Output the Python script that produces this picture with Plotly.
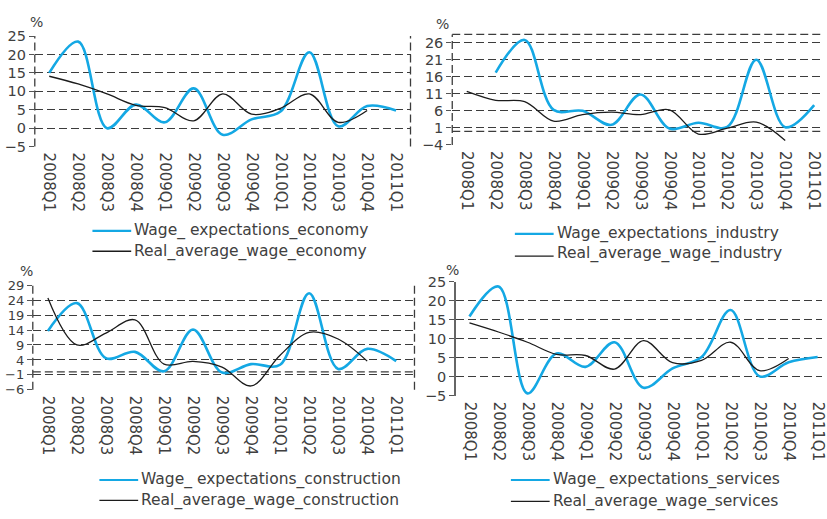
import plotly.graph_objects as go

W, H = 827, 519

quarters = ["2008Q1", "2008Q2", "2008Q3", "2008Q4",
            "2009Q1", "2009Q2", "2009Q3", "2009Q4",
            "2010Q1", "2010Q2", "2010Q3", "2010Q4", "2011Q1"]

# Economy
exp_economy = [15.0, 23.5, 0.0, 6.4, 1.6, 10.8, -1.8, 2.4, 4.5, 20.6, 0.5, 6.0, 4.8]
real_economy = [14.1, 12.0, 9.3, 6.2, 5.6, 2.0, 9.3, 3.8, 5.4, 9.3, 1.6, 4.8, None]

# Industry
exp_industry = [None, 17.2, 26.8, 6.3, 6.0, 1.9, 10.8, 0.8, 2.5, 1.3, 21.0, 1.2, 7.7]
real_industry = [11.7, 9.1, 8.7, 3.0, 4.9, 5.6, 4.9, 6.3, -0.8, 0.9, 2.7, -2.7, None]

# Construction
exp_construction = [13.7, 23.0, 4.6, 6.7, 0.2, 14.2, -0.2, 2.6, 2.4, 26.3, 1.0, 7.7, 3.6]
real_construction = [24.7, 9.0, 13.0, 17.4, 2.6, 3.5, 1.6, -4.7, 5.6, 13.2, 11.0, 3.6, None]

# Services
exp_services = [15.9, 23.8, -4.4, 6.1, 2.6, 9.1, -2.9, 2.2, 5.2, 17.6, 0.1, 3.8, 5.2]
real_services = [14.2, 11.8, 9.1, 5.9, 5.6, 2.0, 9.5, 3.7, 4.3, 9.1, 1.6, 4.8, None]

# Per-panel layout in pixels: plot area, "%" label, and the two key rows
# (key = x of sample line start, y of first and second rows).
panels = [
    dict(exp=exp_economy, real=real_economy,
         exp_name="Wage_ expectations_economy", real_name="Real_average_wage_economy",
         yticks=[25, 20, 15, 10, 5, 0, -5], yrange=[-5, 25], xrange=[-0.5, 12.5],
         px_x=(35, 413), px_y=(29, 143), pct=(37, 14), ysize=14.5,
         key_x=93, key_y=(230, 251), key_text_dy=(0, 0),
         left_dash=True, right_dash=True, top_dash=False, zero_dash=False),
    dict(exp=exp_industry, real=real_industry,
         exp_name="Wage_expectations_industry", real_name="Real_average_wage_industry",
         yticks=[26, 21, 16, 11, 6, 1, -4], yrange=[-4, 28.4], xrange=[-0.5, 12.27],
         px_x=(455, 827), px_y=(27.3, 141.3), pct=(445, 17), ysize=14.5,
         key_x=518, key_y=(233, 256), key_text_dy=(0, -3),
         left_dash=True, right_dash=False, top_dash=True, zero_dash=True),
    dict(exp=exp_construction, real=real_construction,
         exp_name="Wage_ expectations_construction", real_name="Real_average_wage_construction",
         yticks=[29, 24, 19, 14, 9, 4, -1, -6], yrange=[-6, 29], xrange=[-0.52, 12.63],
         px_x=(33, 417), px_y=(286, 394), pct=(27, 271), ysize=13,
         key_x=100, key_y=(487, 508), key_text_dy=(0, 0),
         left_dash=True, right_dash=True, top_dash=False, zero_dash=True),
    dict(exp=exp_services, real=real_services,
         exp_name="Wage_ expectations_services", real_name="Real_average_wage_services",
         yticks=[25, 20, 15, 10, 5, 0, -5], yrange=[-5, 25], xrange=[-0.456, 12.15],
         px_x=(459, 827), px_y=(282.7, 400), pct=(455, 270), ysize=14.5,
         key_x=514, key_y=(487, 509), key_text_dy=(0, 0),
         left_dash=False, right_dash=False, top_dash=False, zero_dash=False),
]

BLUE = "#14A8E4"
DARK = "#1c1c1c"
GRID = "#3c3c3c"
TEXT = "#404040"
FONT = "DejaVu Sans"
DASH = "8px,4px"
KEY_LEN = 39

fig = go.Figure()
shapes = []
annotations = []
layout = {}

for i, p in enumerate(panels, start=1):
    sfx = "" if i == 1 else str(i)
    xa, ya = "x" + sfx, "y" + sfx

    fig.add_trace(go.Scatter(
        x=quarters, y=p["exp"], name=p["exp_name"], mode="lines",
        line=dict(color=BLUE, width=2.6, shape="spline", smoothing=1.0),
        xaxis=xa, yaxis=ya, showlegend=False))
    fig.add_trace(go.Scatter(
        x=quarters, y=p["real"], name=p["real_name"], mode="lines",
        line=dict(color=DARK, width=1.3, shape="spline", smoothing=1.0),
        xaxis=xa, yaxis=ya, showlegend=False))

    x0, x1 = p["px_x"]
    y0, y1 = p["px_y"]
    layout["xaxis" + sfx] = dict(
        domain=[x0 / W, x1 / W], anchor=ya, type="category",
        categoryorder="array", categoryarray=quarters,
        range=p["xrange"], showgrid=False, zeroline=False, showline=False,
        tickangle=90, ticks="", ticklabelstandoff=5,
        tickfont=dict(family=FONT, size=15, color=TEXT))
    layout["yaxis" + sfx] = dict(
        domain=[1 - y1 / H, 1 - y0 / H], anchor=xa, range=p["yrange"],
        tickmode="array", tickvals=p["yticks"], showgrid=True,
        gridcolor=GRID, gridwidth=1.3, griddash=DASH, zeroline=False,
        showline=(not p["left_dash"]), linecolor="#666", linewidth=2,
        ticks="outside", ticklen=5, tickcolor="#555", tickwidth=1.3,
        tickfont=dict(family=FONT, size=p["ysize"], color=TEXT))

    dom_x, dom_y = xa + " domain", ya + " domain"
    if p["left_dash"]:
        shapes.append(dict(type="line", xref=dom_x, yref=dom_y, x0=0, x1=0, y0=0, y1=1,
                           line=dict(color=GRID, width=1.3, dash=DASH), layer="below"))
    if p["right_dash"]:
        shapes.append(dict(type="line", xref=dom_x, yref=dom_y, x0=1, x1=1, y0=0, y1=1,
                           line=dict(color=GRID, width=1.3, dash=DASH), layer="below"))
    if p["top_dash"]:
        shapes.append(dict(type="line", xref=dom_x, yref=dom_y, x0=0, x1=1, y0=1, y1=1,
                           line=dict(color=GRID, width=1.3, dash=DASH), layer="below"))
    if p["zero_dash"]:
        shapes.append(dict(type="line", xref=dom_x, yref=ya, x0=0, x1=1, y0=0, y1=0,
                           line=dict(color=GRID, width=1.3, dash=DASH), layer="below"))

    annotations.append(dict(text="%", xref="paper", yref="paper",
                            x=p["pct"][0] / W, y=1 - p["pct"][1] / H,
                            xanchor="center", yanchor="middle", showarrow=False,
                            font=dict(family=FONT, size=14, color=TEXT)))

    # Key: sample line followed by the series name
    kx = p["key_x"]
    for (name, color, width), ky, dy in zip(
            [(p["exp_name"], BLUE, 2.2), (p["real_name"], DARK, 1.3)],
            p["key_y"], p["key_text_dy"]):
        shapes.append(dict(type="line", xref="paper", yref="paper",
                           x0=kx / W, x1=(kx + KEY_LEN) / W,
                           y0=1 - ky / H, y1=1 - ky / H,
                           line=dict(color=color, width=width)))
        annotations.append(dict(text=name, xref="paper", yref="paper",
                                x=(kx + KEY_LEN + 2) / W, y=1 - (ky + dy) / H,
                                xanchor="left", yanchor="middle", showarrow=False,
                                borderpad=0,
                                font=dict(family=FONT, size=15.5, color=TEXT)))

fig.update_layout(
    width=W, height=H, margin=dict(l=0, r=0, t=0, b=0),
    paper_bgcolor="white", plot_bgcolor="white",
    showlegend=False, shapes=shapes, annotations=annotations, **layout)

fig.write_html("out.html")
